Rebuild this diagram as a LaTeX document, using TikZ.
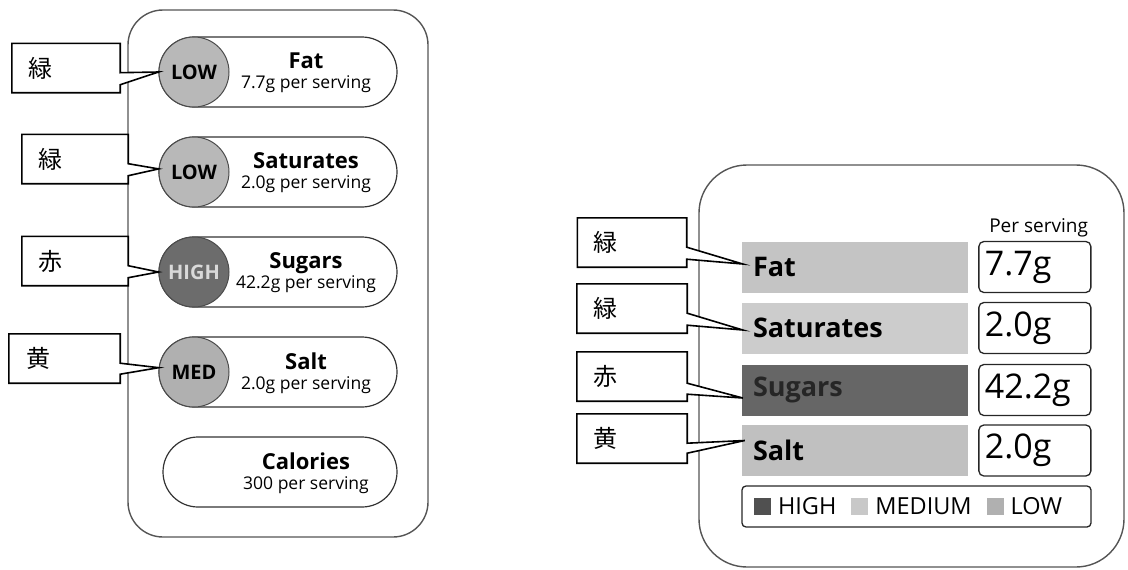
\documentclass[tikz,border=0pt]{standalone}
\usepackage{fontspec}
\setmainfont{Open Sans}
\newfontfamily\jpfont{Noto Sans CJK JP}
\usetikzlibrary{positioning, calc}
\definecolor{linegray}{RGB}{85,85,85}
\definecolor{lowgray}{RGB}{184,184,184}
\definecolor{medgray}{RGB}{176,176,176}
\definecolor{highgray}{RGB}{108,108,108}
\definecolor{fatgray}{RGB}{196,196,196}
\definecolor{satgray}{RGB}{204,204,204}
\definecolor{sugargray}{RGB}{102,102,102}
\definecolor{saltgray}{RGB}{192,192,192}
\definecolor{keyhigh}{RGB}{80,80,80}
\definecolor{keymed}{RGB}{200,200,200}
\definecolor{keylow}{RGB}{176,176,176}

\begin{document}
\begin{tikzpicture}[
    x=1pt, y=-1pt,
    panel/.style={rectangle, draw=linegray, line width=1.4pt},
    pill/.style={rectangle, rounded corners=35pt, minimum height=70pt, draw=black!80, line width=1.2pt, fill=white},
    dot/.style={circle, minimum size=70pt, inner sep=0pt, draw=black!70, line width=1pt, font=\fontsize{20}{20}\selectfont\bfseries},
    pilltext/.style={align=center, font=\fontsize{17.5}{20}\selectfont},
    tag/.style={rectangle, fill=white, minimum height=49pt, inner xsep=16pt, text width=76pt, align=left, font=\fontsize{24}{24}\jpfont},
    tagline/.style={draw=black, line width=1.6pt, line join=miter},
    bar/.style={rectangle, minimum height=51pt, inner xsep=11pt, text width=204pt, align=left, font=\fontsize{27}{27}\selectfont\bfseries},
    valbox/.style={rectangle, rounded corners=5pt, draw=black!85, line width=1.3pt, minimum height=51pt, inner xsep=6pt, text width=100pt, align=left, font=\fontsize{34}{34}\selectfont}
]
    \useasboundingbox (0,0) rectangle (1128,570);

    % left label: circles
    \node[panel, rounded corners=35pt, minimum width=300pt, minimum height=527pt] (lpanel) at (278,273.5) {};

    \node[pill, minimum width=238pt] (p1) at (278,72) {};
    \node[pill, minimum width=238pt] (p2) at (278,172) {};
    \node[pill, minimum width=238pt] (p3) at (278,272) {};
    \node[pill, minimum width=238pt] (p4) at (278,372) {};
    \node[pill, minimum width=234pt] (p5) at (280,472) {};

    \node[dot, fill=lowgray] (c1) at (194,72) {LOW};
    \node[dot, fill=lowgray] (c2) at (194,172) {LOW};
    \node[dot, fill=highgray, text=black!15] (c3) at (194,272) {HIGH};
    \node[dot, fill=medgray] (c4) at (194,372) {MED};

    \node[pilltext] (t1) at (306,73) {{\fontsize{22}{22}\selectfont\bfseries Fat}\\7.7g per serving};
    \node[pilltext] (t2) at (306,173) {{\fontsize{22}{22}\selectfont\bfseries Saturates}\\2.0g per serving};
    \node[pilltext] (t3) at (306,273) {{\fontsize{22}{22}\selectfont\bfseries Sugars}\\42.2g per serving};
    \node[pilltext] (t4) at (306,373) {{\fontsize{22}{22}\selectfont\bfseries Salt}\\2.0g per serving};
    \node[pilltext] (t5) at (306,473) {{\fontsize{22}{22}\selectfont\bfseries Calories}\\300 per serving};

    % right label: bars
    \node[panel, rounded corners=48pt, minimum width=425pt, minimum height=402pt] (rpanel) at (911.5,366) {};

    \node[bar, fill=fatgray] (b1) at (855,267) {Fat};
    \node[bar, fill=satgray] (b2) at (855,328) {Saturates};
    \node[bar, fill=sugargray, text=black!85] (b3) at (855,390) {Sugars};
    \node[bar, fill=saltgray] (b4) at (855,450.5) {Salt};

    \node[valbox, right=10pt of b1] (v1) {7.7g};
    \node[valbox, right=10pt of b2] (v2) {2.0g};
    \node[valbox, right=10pt of b3] (v3) {42.2g};
    \node[valbox, right=10pt of b4] (v4) {2.0g};

    \node[above=0pt of v1.north east, anchor=south east, font=\fontsize{19}{19}\selectfont] (perhead) {Per serving};

    \node[rectangle, rounded corners=4pt, draw=black!85, line width=1.3pt, minimum height=41pt, inner xsep=12pt, text width=325pt, align=left, font=\fontsize{23.5}{23.5}\selectfont] (key) at (916.5,506.5)
        {\textcolor{keyhigh}{\rule{17pt}{17pt}}\hspace{7pt}HIGH\hspace{15pt}\textcolor{keymed}{\rule{17pt}{17pt}}\hspace{7pt}MEDIUM\hspace{15pt}\textcolor{keylow}{\rule{17pt}{17pt}}\hspace{7pt}LOW};

    % colour tags
    \node[tag] (g1) at (66,68) {緑};
    \node[tag, text width=74pt] (g2) at (75,159) {緑};
    \node[tag, text width=74pt] (g3) at (75,261) {赤};
    \node[tag, text width=75pt, inner xsep=18pt] (g4) at (64.5,358.5) {黄};
    \node[tag, text width=77pt] (g5) at (632,242.5) {緑};
    \node[tag, text width=78pt] (g6) at (632,308.5) {緑};
    \node[tag, text width=78pt] (g7) at (632,376.5) {赤};
    \node[tag, text width=78pt] (g8) at (632,438.5) {黄};

    \fill[white] ($(g1.south east)+(0,-20)$) -- (c1.west) -- ($(g1.south east)+(0,-8)$) -- cycle;
    \draw[tagline] (g1.south east) -- ($(g1.south east)+(0,-8)$) -- (c1.west) -- ($(g1.south east)+(0,-20)$) |- (g1.north west) |- cycle;
    \fill[white] ($(g2.south east)+(0,-20)$) -- (c2.175) -- ($(g2.south east)+(0,-8)$) -- cycle;
    \draw[tagline] (g2.south east) -- ($(g2.south east)+(0,-8)$) -- (c2.175) -- ($(g2.south east)+(0,-20)$) |- (g2.north west) |- cycle;
    \fill[white] ($(g3.south east)+(0,-20)$) -- (c3.west) -- ($(g3.south east)+(0,-8)$) -- cycle;
    \draw[tagline] (g3.south east) -- ($(g3.south east)+(0,-8)$) -- (c3.west) -- ($(g3.south east)+(0,-20)$) |- (g3.north west) |- cycle;
    \fill[white] ($(g4.south east)+(0,-20)$) -- (c4.173) -- ($(g4.south east)+(0,-9)$) -- cycle;
    \draw[tagline] (g4.south east) -- ($(g4.south east)+(0,-9)$) -- (c4.173) -- ($(g4.south east)+(0,-20)$) |- (g4.north west) |- cycle;

    \fill[white] ($(g5.south east)+(0,-20)$) -- ($(b1.west)+(1,-3)$) -- ($(g5.south east)+(0,-8)$) -- cycle;
    \draw[tagline] (g5.south east) -- ($(g5.south east)+(0,-8)$) -- ($(b1.west)+(1,-3)$) -- ($(g5.south east)+(0,-20)$) |- (g5.north west) |- cycle;
    \fill[white] ($(g6.south east)+(0,-20)$) -- ($(b2.west)+(1,2)$) -- ($(g6.south east)+(0,-8)$) -- cycle;
    \draw[tagline] (g6.south east) -- ($(g6.south east)+(0,-8)$) -- ($(b2.west)+(1,2)$) -- ($(g6.south east)+(0,-20)$) |- (g6.north west) |- cycle;
    \fill[white] ($(g7.south east)+(0,-18)$) -- ($(b3.west)+(1,8)$) -- ($(g7.south east)+(0,-7)$) -- cycle;
    \draw[tagline] (g7.south east) -- ($(g7.south east)+(0,-7)$) -- ($(b3.west)+(1,8)$) -- ($(g7.south east)+(0,-18)$) |- (g7.north west) |- cycle;
    \fill[white] ($(g8.south east)+(0,-20)$) -- ($(b4.west)+(3,-10)$) -- ($(g8.south east)+(0,-10)$) -- cycle;
    \draw[tagline] (g8.south east) -- ($(g8.south east)+(0,-10)$) -- ($(b4.west)+(3,-10)$) -- ($(g8.south east)+(0,-20)$) |- (g8.north west) |- cycle;

\end{tikzpicture}
\end{document}
